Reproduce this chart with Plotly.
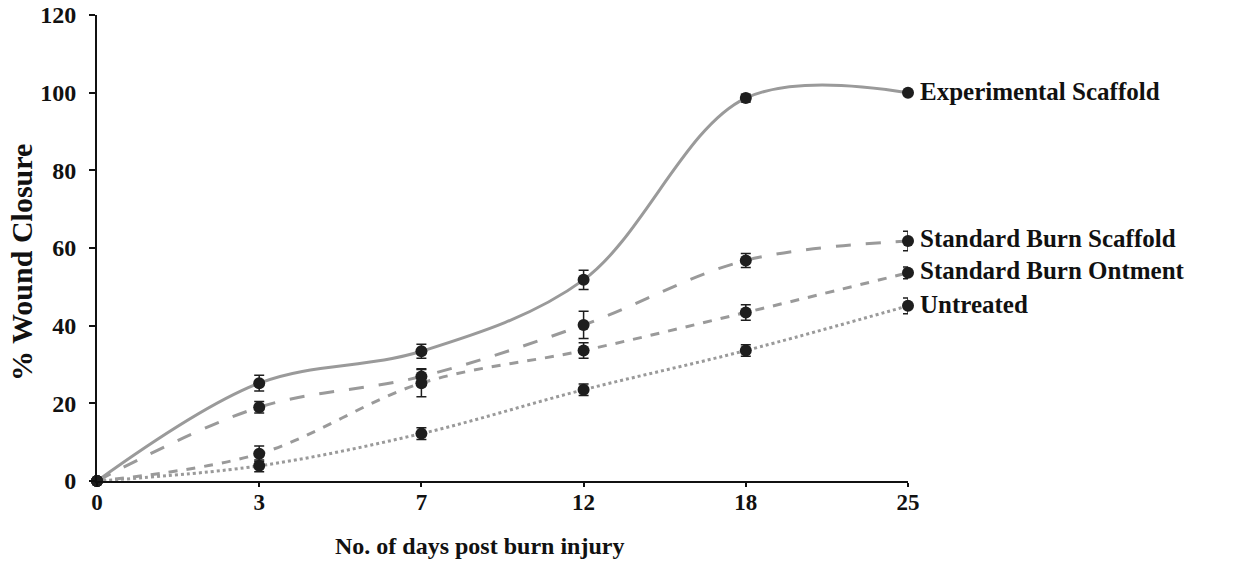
import plotly.graph_objects as go

days = ["0", "3", "7", "12", "18", "25"]

exp_scaffold = [0, 25.2, 33.4, 51.8, 98.6, 100.0]
exp_scaffold_err = [0, 2.0, 1.8, 2.5, 1.0, 0.5]

std_scaffold = [0, 19.0, 26.9, 40.2, 56.8, 61.8]
std_scaffold_err = [0, 1.5, 2.0, 3.5, 1.8, 2.5]

std_ointment = [0, 7.0, 25.2, 33.6, 43.4, 53.6]
std_ointment_err = [0, 2.0, 3.5, 2.0, 2.0, 1.5]

untreated = [0, 3.9, 12.2, 23.5, 33.6, 45.1]
untreated_err = [0, 1.5, 1.5, 1.5, 1.5, 2.0]

series_names = ["Experimental Scaffold", "Standard Burn Scaffold",
                "Standard Burn Ontment", "Untreated"]

FONT = "Liberation Serif"
LINE_GRAY = "#9a9a9a"
MARK = "#1e1e1e"
TEXT = "#111111"

x_idx = list(range(len(days)))

series = [
    (exp_scaffold, exp_scaffold_err, "solid"),
    (std_scaffold, std_scaffold_err, "longdash"),
    (std_ointment, std_ointment_err, "dash"),
    (untreated, untreated_err, "dot"),
]

fig = go.Figure()
for name, (vals, errs, dash) in zip(series_names, series):
    fig.add_trace(go.Scatter(
        x=x_idx, y=vals, name=name, mode="lines+markers",
        line=dict(color=LINE_GRAY, width=3, dash=dash, shape="spline", smoothing=1.0),
        marker=dict(color=MARK, size=12),
        error_y=dict(type="data", array=errs, visible=True,
                     color=MARK, thickness=1.5, width=5),
        cliponaxis=False,
        showlegend=False,
    ))

# Series labels to the right of the final points (small pixel nudges keep
# the closely stacked labels apart)
label_y = [100.2, 61.8, 54.9, 46.1]
label_shift = [0, 3, -3, -3]
for name, yv, ys in zip(series_names, label_y, label_shift):
    fig.add_annotation(
        x=x_idx[-1], y=yv, xref="x", yref="y", text=name,
        showarrow=False, xanchor="left", yanchor="middle", xshift=10, yshift=ys,
        font=dict(family=FONT, size=25, color=TEXT, weight="bold"),
    )

# Axis titles
fig.add_annotation(
    x=0.472, y=0, xref="paper", yref="paper", yanchor="top", yshift=-50,
    text="No. of days post burn injury", showarrow=False,
    font=dict(family=FONT, size=24, color=TEXT, weight="bold"),
)
fig.add_annotation(
    x=-0.0925, y=0.47, xref="paper", yref="paper", xanchor="center", yanchor="middle",
    text="% Wound Closure", textangle=-90, showarrow=False,
    font=dict(family=FONT, size=30, color=TEXT, weight="bold"),
)

fig.update_layout(
    width=1246, height=564,
    margin=dict(l=97, r=338, t=15, b=83, autoexpand=False),
    paper_bgcolor="white", plot_bgcolor="white",
    font=dict(family=FONT, color=TEXT),
    xaxis=dict(
        range=[0, 5], tickmode="array", tickvals=x_idx, ticktext=days,
        showgrid=False, zeroline=False, showline=True, linecolor=TEXT,
        linewidth=2, ticks="outside", ticklen=4, tickwidth=2, tickcolor=TEXT,
        tickfont=dict(family=FONT, size=23, weight="bold"),
        ticklabelstandoff=-5,
        automargin=False,
    ),
    yaxis=dict(
        range=[0, 120], tickvals=[0, 20, 40, 60, 80, 100, 120],
        showgrid=False, zeroline=False, showline=True, linecolor=TEXT,
        linewidth=2, ticks="outside", ticklen=6, tickwidth=2, tickcolor=TEXT,
        tickfont=dict(family=FONT, size=24, weight="bold"),
        ticklabelstandoff=8,
        automargin=False,
    ),
)

fig.write_html("out.html")
